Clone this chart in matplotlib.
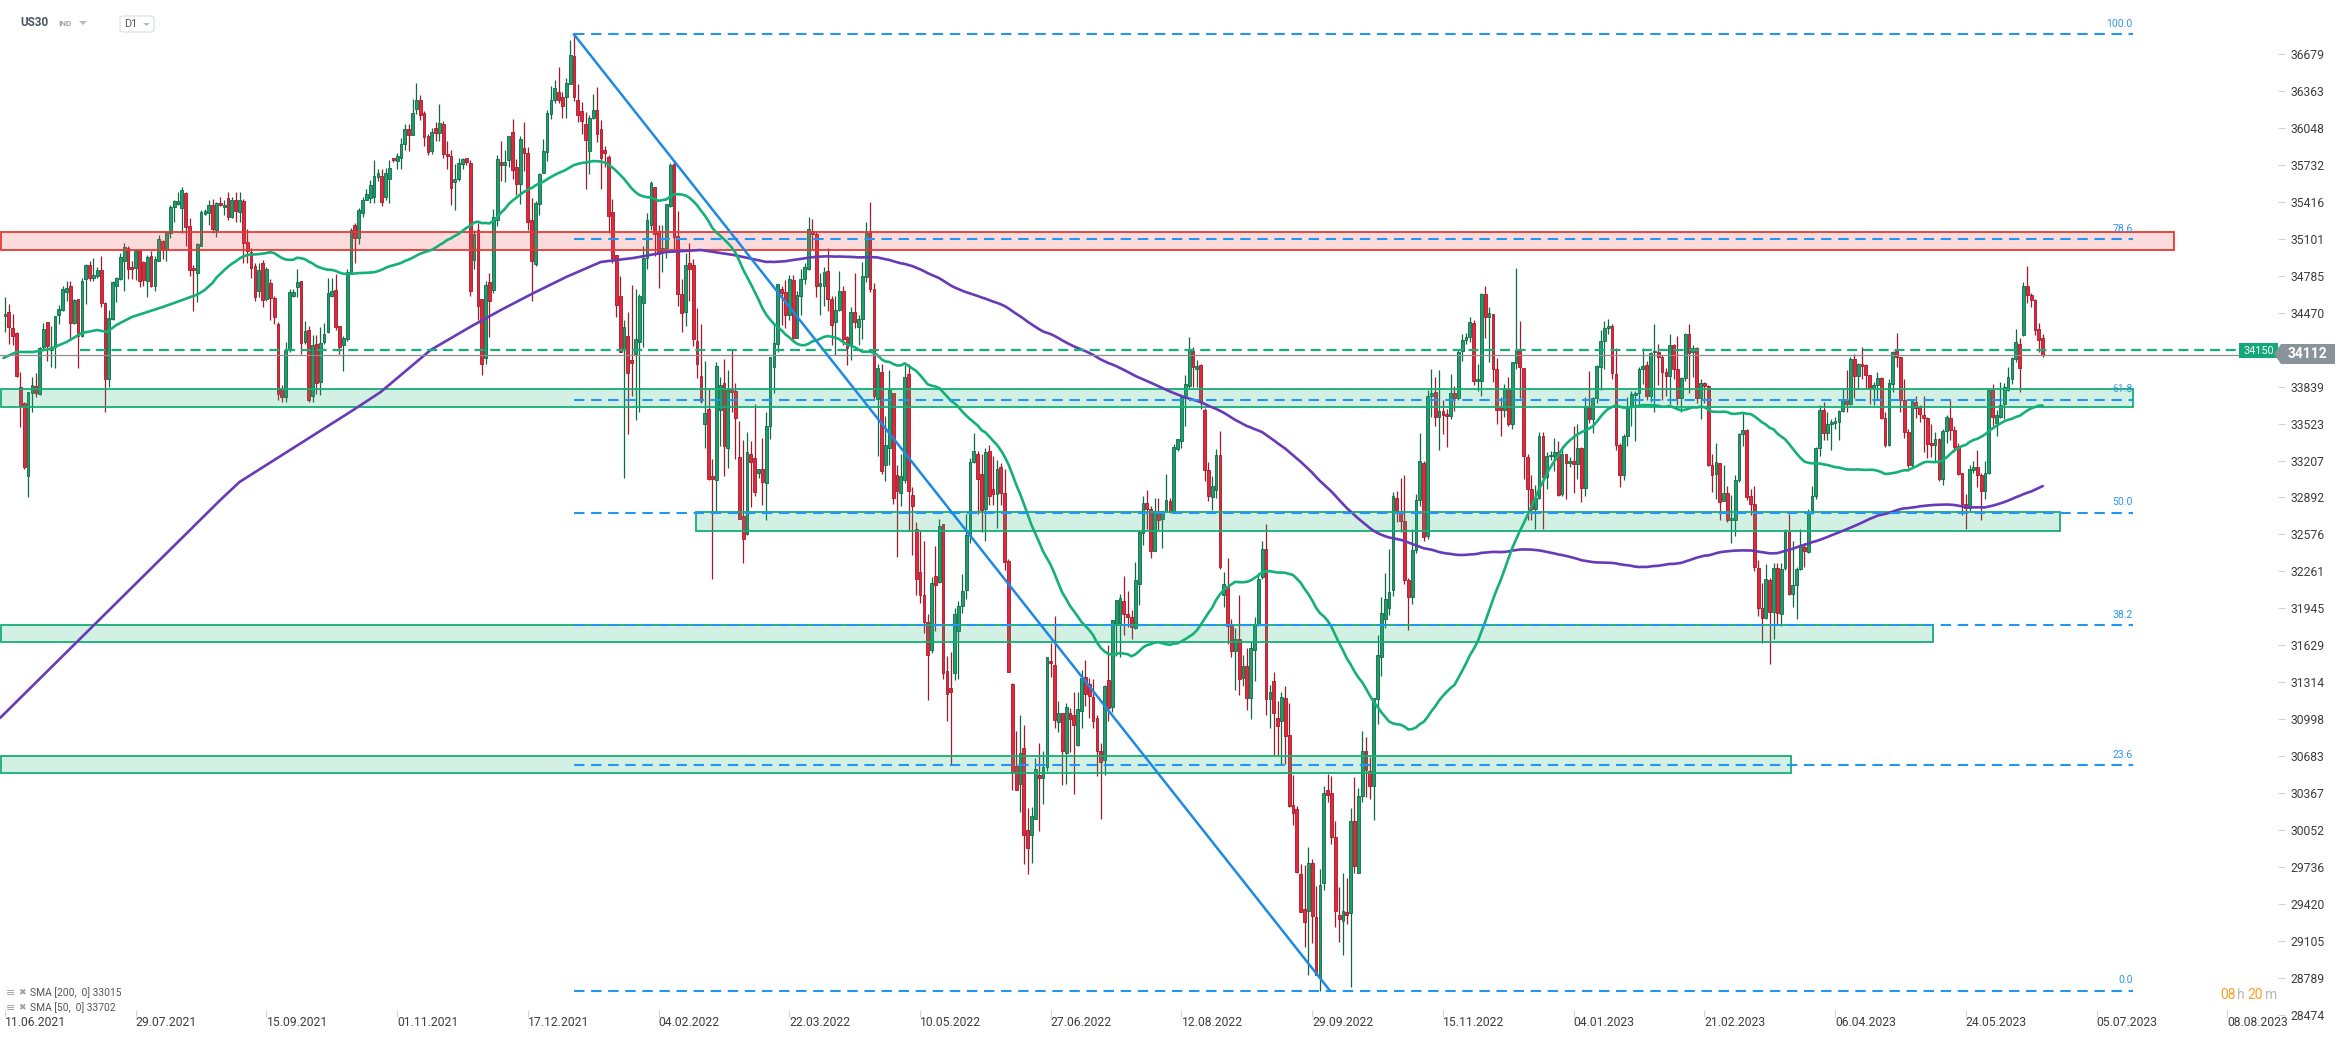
import numpy as np
import matplotlib
matplotlib.use("Agg")
import matplotlib.pyplot as plt
from matplotlib.patches import Rectangle, Polygon, FancyBboxPatch

plt.rcParams['font.family'] = ['Roboto', 'DejaVu Sans']

W, H = 2346, 1039

# daily candles, US30 D1 (bar 0 = 11.06.2021, last bar = 22.06.2023)
opens = [
    34445, 34479, 34341, 34298, 33838, 33699, 33077, 33781, 33846, 33776,
    34177, 34386, 34148, 34177, 34451, 34493, 34649, 34697, 34383, 34587,
    34270, 34756, 34875, 34765, 34782, 34835, 34553, 33903, 34417, 34700,
    34756, 34912, 35018, 34861, 34855, 34993, 34903, 34742, 34957, 34700,
    34912, 35083, 35007, 35148, 35374, 35400, 35360, 35496, 35213, 34850,
    34807, 35043, 35312, 35318, 35386, 35176, 35405, 35369, 35445, 35289,
    35431, 35332, 35422, 35077, 34988, 34869, 34657, 34897, 34586, 34727,
    34594, 34374, 33817, 33752, 34153, 34615, 34685, 34739, 34218, 34323,
    33761, 34199, 33874, 34218, 34303, 34614, 34662, 34354, 34196, 34247,
    34821, 35218, 35105, 35323, 35436, 35453, 35459, 35632, 35640, 35459,
    35609, 35790, 35767, 35793, 35914, 36035, 35990, 36205, 36284, 36171,
    35976, 35852, 36043, 36006, 36077, 35829, 35809, 35589, 35609, 35739,
    35787, 35750, 34921, 35174, 34583, 34081, 34728, 34664, 35264, 35753,
    35734, 35776, 36014, 35717, 35569, 35879, 35831, 35264, 34888, 35400,
    35663, 35842, 36166, 36286, 36354, 36309, 36312, 36425, 36659, 36286,
    36189, 36085, 35847, 36134, 36199, 36037, 35857, 35802, 35326, 34963,
    34609, 34152, 34269, 34064, 34113, 34217, 34550, 34939, 35222, 35546,
    35164, 34997, 35020, 35384, 35737, 35125, 34631, 34476, 34890, 34874,
    34227, 33928, 33515, 33651, 33077, 33045, 33635, 33872, 33311, 33814,
    33798, 33236, 32731, 32576, 33262, 33230, 33100, 33132, 33019, 33505,
    34004, 34202, 34672, 34646, 34451, 34750, 34257, 34614, 34760, 34841,
    35166, 35143, 34701, 34695, 34825, 34588, 34387, 34494, 34656, 34263,
    34192, 34474, 34344, 34419, 34776, 35166, 34669, 33732, 33965, 33165,
    33311, 33781, 33083, 32932, 33041, 33950, 32916, 32624, 32251, 32063,
    31826, 31586, 32222, 32172, 32661, 31411, 31267, 31391, 31753, 31967,
    32105, 32567, 33192, 33266, 33091, 32792, 33286, 32962, 32919, 33148,
    32926, 32349, 31301, 30602, 30442, 30750, 30056, 30006, 30147, 30525,
    30498, 30592, 31492, 31458, 30978, 31050, 30710, 31050, 31033, 30776,
    31066, 31358, 31301, 31184, 31009, 30726, 30649, 31334, 31100, 31803,
    31820, 32004, 31894, 31870, 31780, 32155, 32584, 32842, 32792, 32433,
    32768, 32709, 32777, 32864, 32777, 33304, 33372, 33739, 33845, 34141,
    33993, 34020, 33637, 33122, 32894, 32958, 33258, 32058, 32134, 31794,
    31579, 31681, 31352, 31454, 31178, 31586, 31806, 32210, 32455, 31170,
    31322, 31008, 30981, 31182, 30863, 30265, 30227, 29674, 29375, 29363,
    29768, 29307, 28791, 29602, 30390, 30364, 29992, 29325, 29276, 29352,
    29344, 30125, 29685, 30341, 30730, 30553, 30428, 31170, 31530, 31851,
    31946, 32100, 32890, 32780, 32690, 32190, 32040, 32440, 32870, 33190,
    32560, 33760, 33790, 33580, 33630, 33590, 33590, 33780, 33740, 34140,
    34234, 34260, 34380, 33890, 33890, 34630, 34430, 34460, 33990, 33640,
    33640, 33820, 33520, 34040, 34150, 34000, 33240, 32960, 32790, 32890,
    33420, 33070, 33244, 33250, 33280, 32920, 33260, 33190, 33200, 33180,
    33310, 32970, 33670, 33560, 33740, 34010, 34230, 34340, 34360, 33950,
    33340, 33085, 33420, 33670, 33770, 33780, 33990, 34020, 33760, 34130,
    34130, 34090, 33960, 33930, 34190, 33990, 33740, 33910, 34290, 34130,
    34170, 33740, 33870, 33840, 33170, 33090, 33190, 32860, 32930, 32700,
    32700, 33040, 33430, 33470, 32900, 32840, 32290, 31950, 31860, 32190,
    31910, 32290, 31900, 32290, 32600, 32070, 32140, 32280, 32470, 32430,
    32760, 32900, 33310, 33640, 33440, 33520, 33530, 33540, 33630, 33720,
    33690, 34070, 33930, 34030, 34020, 33940, 33830, 33850, 33910, 33570,
    33340, 33860, 34140, 34090, 33720, 33450, 33170, 33710, 33660, 33600,
    33570, 33350, 33340, 33390, 33050, 33460, 33570, 33470, 33330, 33100,
    32840, 32800, 33130, 33150, 33080, 32950, 33100, 33810, 33530, 33580,
    33690, 33810, 33900, 34070, 34200, 34280, 34700, 34620, 34580, 34330,
    34250,
]
highs = [
    34601, 34544, 34459, 34304, 33959, 33705, 33790, 33917, 33951, 34180,
    34380, 34389, 34352, 34442, 34538, 34700, 34742, 34742, 34590, 34590,
    34770, 34884, 34912, 34940, 34864, 34954, 34558, 34493, 34740, 34776,
    34983, 35063, 35035, 34912, 35015, 35007, 34912, 34960, 34993, 34954,
    35134, 35091, 35168, 35388, 35436, 35502, 35544, 35502, 35275, 34879,
    35063, 35346, 35354, 35431, 35439, 35417, 35459, 35431, 35502, 35459,
    35502, 35502, 35444, 35182, 35020, 34897, 34897, 34921, 34860, 34755,
    34614, 34389, 33851, 34220, 34670, 34670, 34840, 34744, 34398, 34360,
    34280, 34280, 34346, 34380, 34770, 34770, 34800, 34360, 34270, 34840,
    35190, 35233, 35360, 35459, 35530, 35603, 35773, 35693, 35693, 35703,
    35773, 35793, 35833, 35963, 36085, 36085, 36295, 36435, 36325, 36195,
    35993, 36045, 36095, 36255, 36105, 35933, 35863, 35743, 35793, 35793,
    35793, 35773, 35174, 35239, 34583, 34738, 34809, 35352, 35815, 35940,
    35863, 35982, 36128, 35786, 35979, 36102, 35883, 35449, 35423, 35663,
    35950, 36199, 36409, 36458, 36571, 36354, 36474, 36798, 36840, 36419,
    36270, 36183, 36160, 36335, 36393, 36118, 35889, 35818, 35439, 34963,
    34787, 34411, 34479, 34703, 34670, 34631, 35038, 35320, 35595, 35546,
    35222, 35222, 35401, 35750, 35776, 35336, 34761, 34980, 35067, 34925,
    34508, 34372, 34056, 33830, 33220, 34052, 33921, 34075, 33982, 34150,
    33866, 33548, 33382, 33450, 33376, 33694, 33132, 33402, 33625, 34088,
    34377, 34711, 34695, 34750, 34792, 34792, 34656, 34841, 34890, 35289,
    35273, 35166, 34808, 34857, 35023, 34614, 34614, 34825, 34695, 34273,
    34516, 34808, 34452, 34906, 35247, 35419, 34727, 34030, 34030, 33586,
    33981, 33781, 33165, 33262, 34023, 34030, 32981, 32679, 32608, 32517,
    31900, 32215, 32473, 32711, 32668, 31542, 31569, 31947, 32004, 32239,
    32751, 33225, 33443, 33292, 33259, 33316, 33336, 33249, 33215, 33182,
    33131, 32366, 31311, 30894, 31033, 30951, 30240, 30247, 30669, 30793,
    30726, 31529, 31646, 31880, 31157, 31050, 31133, 31090, 31234, 31227,
    31418, 31502, 31351, 31344, 31033, 30793, 31291, 31636, 31847, 32014,
    32064, 32222, 32091, 31927, 32339, 32617, 32902, 32952, 32819, 32885,
    32885, 32777, 33096, 32888, 33349, 33387, 33750, 33939, 34262, 34179,
    34065, 34028, 33652, 33198, 33077, 33304, 33463, 32259, 32372, 31851,
    31776, 32058, 31549, 31605, 31655, 31870, 32247, 32523, 32663, 31291,
    31405, 31151, 31227, 31284, 31140, 30522, 30257, 29761, 29753, 29904,
    29806, 29571, 29723, 30428, 30530, 30511, 30125, 29564, 29685, 29639,
    30238, 30503, 30409, 30900, 30844, 30673, 31178, 31719, 32043, 32247,
    32448, 32940, 32950, 33060, 33080, 32200, 32620, 32920, 33440, 33200,
    33810, 33990, 33920, 33980, 33720, 33650, 33950, 33840, 34160, 34290,
    34300, 34430, 34410, 34030, 34640, 34700, 34520, 34460, 34080, 33750,
    33860, 33920, 34050, 34850, 34400, 34000, 33260, 33080, 33000, 33450,
    33450, 33280, 33290, 33400, 33370, 33330, 33260, 33240, 33500, 33520,
    33320, 33750, 33970, 33750, 34020, 34320, 34400, 34420, 34370, 34170,
    33360, 33430, 33750, 33800, 33800, 34010, 34170, 34060, 34130, 34370,
    34200, 34110, 34000, 34290, 34200, 34270, 33920, 34300, 34370, 34190,
    34180, 33900, 33880, 33850, 33260, 33360, 33190, 33170, 32990, 32910,
    33080, 33440, 33610, 33480, 32960, 32990, 32360, 32160, 32320, 32200,
    32330, 32330, 32330, 32620, 32750, 32520, 32300, 32620, 32500, 32790,
    32990, 33320, 33680, 33710, 33620, 33560, 33580, 33640, 33820, 33980,
    34090, 34120, 34040, 34180, 34030, 33940, 33880, 33960, 33920, 33620,
    33900, 34140, 34300, 34090, 33900, 33480, 33730, 33760, 33680, 33760,
    33580, 33520, 33450, 33400, 33480, 33600, 33720, 33500, 33360, 33100,
    32920, 33170, 33200, 33300, 33100, 33200, 33820, 33860, 33640, 33880,
    33870, 34010, 34090, 34330, 34250, 34730, 34870, 34640, 34590, 34380,
    34290,
]
lows = [
    34304, 34205, 34191, 33917, 33493, 33139, 32894, 33620, 33747, 33765,
    34162, 34058, 34002, 33996, 34374, 34488, 34572, 34233, 34374, 34001,
    34261, 34544, 34742, 34742, 34770, 34516, 33620, 33832, 34410, 34558,
    34748, 34657, 34756, 34756, 34748, 34685, 34700, 34601, 34686, 34657,
    34912, 34926, 34912, 35106, 35247, 35390, 35148, 35035, 34784, 34488,
    34558, 35035, 35304, 35219, 35148, 35114, 35380, 35304, 35261, 35281,
    35247, 35247, 34897, 34897, 34770, 34572, 34600, 34515, 34572, 34405,
    34374, 33725, 33705, 33705, 34130, 34600, 34600, 34120, 34203, 33705,
    33710, 33775, 33765, 34200, 34300, 34600, 34320, 34120, 33975, 34230,
    34810, 34897, 35060, 35290, 35430, 35410, 35410, 35593, 35385, 35430,
    35410, 35753, 35693, 35693, 35863, 35848, 35983, 36165, 36115, 35893,
    35813, 35823, 35933, 35933, 35793, 35693, 35390, 35350, 35593, 35693,
    35733, 34610, 34840, 34405, 33938, 34032, 34259, 34638, 35206, 35598,
    35588, 35711, 35614, 35475, 35400, 35679, 35180, 34567, 34866, 35303,
    35663, 35769, 36128, 36263, 36263, 36134, 36134, 36425, 36280, 36095,
    35996, 35523, 35653, 36128, 35930, 35523, 35718, 35151, 34898, 34431,
    34130, 33054, 33436, 33760, 33549, 33620, 34178, 34840, 35174, 34955,
    34680, 34819, 34939, 35368, 35012, 34528, 34308, 34356, 34567, 34184,
    33912, 33701, 33311, 33041, 32193, 32777, 33333, 33077, 33142, 33619,
    33223, 32705, 32332, 32569, 32812, 32906, 33056, 32829, 32696, 33392,
    33781, 34137, 34364, 34338, 34403, 34241, 34250, 34452, 34711, 34831,
    35013, 34604, 34451, 34526, 34484, 34192, 34111, 34484, 34192, 34023,
    34069, 34338, 34192, 34241, 34734, 34646, 33732, 33246, 33093, 33035,
    33165, 32835, 32381, 32819, 33019, 32608, 32397, 32057, 31992, 31738,
    31164, 31560, 31753, 32165, 31344, 30984, 30616, 31334, 31344, 31904,
    32024, 32507, 33185, 32751, 32594, 32517, 32828, 32828, 32627, 32828,
    32272, 31401, 30391, 30391, 30207, 29760, 29673, 29773, 30147, 30040,
    30274, 30559, 31358, 30927, 30887, 30435, 30448, 30716, 30358, 30770,
    30927, 31110, 31009, 30927, 30509, 30147, 30525, 30983, 31056, 31535,
    31525, 31720, 31786, 31686, 31770, 31971, 32483, 32624, 32373, 32433,
    32617, 32459, 32769, 32758, 32777, 33285, 33311, 33500, 33815, 33833,
    33833, 33644, 33031, 32864, 32788, 32883, 32277, 31956, 31643, 31530,
    31246, 31208, 31284, 31076, 31000, 31322, 31794, 32194, 31038, 30919,
    30693, 30693, 30617, 30617, 30250, 30095, 29684, 29352, 29049, 28810,
    29087, 28810, 28677, 29541, 30295, 29931, 29223, 29098, 28985, 29250,
    28715, 29685, 29685, 30295, 30333, 30314, 30136, 30957, 31367, 31775,
    31889, 32050, 32680, 32600, 32150, 31760, 31980, 32420, 32820, 32520,
    32540, 33580, 33500, 33300, 33430, 33320, 33560, 33630, 33720, 34060,
    34200, 34220, 33850, 33800, 33760, 34250, 34050, 33880, 33520, 33420,
    33580, 33500, 33480, 33990, 33740, 33050, 32700, 32700, 32620, 32880,
    32620, 32960, 33210, 33120, 32900, 32900, 32880, 33150, 32930, 33050,
    32850, 32900, 33530, 33440, 33700, 33810, 33990, 34290, 33900, 33300,
    32980, 33040, 33330, 33500, 33370, 33660, 33860, 33720, 33710, 33620,
    33850, 33720, 33760, 33690, 33900, 33680, 33620, 33890, 33780, 33920,
    33700, 33560, 33700, 33160, 32940, 32880, 32700, 32860, 32680, 32500,
    32560, 33020, 33330, 32870, 32740, 32260, 31880, 31650, 31850, 31470,
    31680, 31800, 31790, 32270, 32060, 31960, 31850, 32270, 32300, 32420,
    32750, 32880, 33250, 33380, 33380, 33300, 33480, 33380, 33620, 33620,
    33680, 33740, 33820, 33900, 33820, 33690, 33680, 33720, 33560, 33320,
    33330, 33790, 34010, 33620, 33400, 33140, 33150, 33570, 33540, 33280,
    33230, 33240, 33200, 33030, 33000, 33360, 33380, 33280, 33080, 32740,
    32620, 32780, 33100, 32980, 32700, 32880, 33090, 33500, 33420, 33570,
    33560, 33800, 33860, 34050, 33796, 34270, 34550, 34520, 34280, 34130,
    34090,
]
closes = [
    34459, 34346, 34270, 33925, 33677, 33153, 33790, 33852, 33781, 34171,
    34332, 34185, 34177, 34442, 34502, 34671, 34683, 34383, 34578, 34270,
    34742, 34878, 34762, 34793, 34835, 34553, 33903, 34425, 34728, 34770,
    34946, 35029, 34841, 34841, 34993, 34742, 34748, 34946, 34700, 34926,
    35097, 35007, 35156, 35374, 35425, 35425, 35516, 35199, 34837, 34831,
    35055, 35326, 35337, 35386, 35182, 35403, 35388, 35388, 35289, 35431,
    35340, 35431, 35063, 35000, 34849, 34600, 34832, 34577, 34841, 34594,
    34431, 33775, 33747, 34153, 34648, 34645, 34736, 34213, 34317, 33727,
    34196, 33868, 34210, 34289, 34637, 34657, 34346, 34176, 34255, 34821,
    35176, 35105, 35346, 35436, 35487, 35558, 35637, 35660, 35411, 35660,
    35702, 35770, 35804, 35906, 36035, 35985, 36171, 36284, 36162, 35971,
    35843, 36010, 36006, 36091, 35821, 35809, 35532, 35609, 35744, 35781,
    35759, 34657, 35141, 34528, 34032, 34706, 34567, 35287, 35786, 35734,
    35753, 35982, 35685, 35569, 35956, 35831, 35248, 34907, 35410, 35653,
    35852, 36176, 36286, 36387, 36286, 36231, 36432, 36668, 36312, 36160,
    36108, 35944, 36134, 36199, 35996, 35792, 35834, 35297, 34940, 34534,
    34136, 34346, 33951, 34042, 34243, 34615, 34933, 35261, 35578, 35141,
    34971, 35026, 35394, 35727, 35119, 34625, 34469, 34874, 34842, 34249,
    34032, 33718, 33609, 33051, 33051, 34013, 33853, 33333, 33807, 33791,
    33570, 32705, 32537, 33278, 33191, 32937, 33132, 33028, 33505, 34088,
    34215, 34711, 34636, 34451, 34760, 34257, 34620, 34760, 34864, 35185,
    35143, 34695, 34727, 34818, 34588, 34361, 34494, 34653, 34241, 34166,
    34474, 34387, 34419, 34782, 35153, 34669, 33754, 33997, 33116, 33343,
    33807, 32884, 32949, 33077, 33918, 32949, 32819, 32193, 32063, 31826,
    31543, 32165, 32148, 32651, 31391, 31217, 31227, 31897, 31967, 32091,
    32567, 33192, 33286, 33048, 32785, 33282, 32902, 32919, 33131, 32929,
    32339, 31401, 30542, 30391, 30710, 30006, 29894, 30174, 30575, 30492,
    30592, 31529, 31475, 30989, 31050, 30726, 31100, 31000, 30949, 31083,
    31351, 31217, 31200, 30983, 30726, 30636, 31284, 31090, 31847, 32014,
    32031, 31897, 31870, 31787, 32189, 32601, 32842, 32795, 32433, 32775,
    32701, 32777, 32871, 32777, 33323, 33387, 33750, 33864, 34160, 34009,
    34016, 33712, 33122, 32902, 32990, 33255, 32296, 32153, 31794, 31579,
    31681, 31341, 31454, 31178, 31605, 31813, 32194, 32448, 31170, 31227,
    31049, 30936, 31189, 30855, 30257, 30201, 29693, 29352, 29269, 29768,
    29314, 28810, 29579, 30371, 30352, 29992, 29363, 29295, 29363, 29322,
    30125, 29742, 30341, 30730, 30560, 30428, 31178, 31549, 31908, 32021,
    32088, 32900, 32773, 32693, 32188, 32041, 32443, 32867, 33200, 32554,
    33756, 33788, 33577, 33633, 33594, 33587, 33786, 33740, 34138, 34234,
    34260, 34387, 33889, 33893, 34630, 34435, 34470, 33987, 33637, 33638,
    33821, 33517, 34045, 34148, 34006, 33243, 32960, 32797, 32890, 33417,
    33067, 33244, 33250, 33281, 32916, 33261, 33187, 33200, 33176, 33310,
    32970, 33671, 33558, 33745, 34014, 34230, 34343, 34360, 33951, 33337,
    33085, 33416, 33670, 33774, 33784, 33990, 34018, 33758, 34126, 34133,
    34094, 33966, 33931, 34196, 33989, 33739, 33909, 34286, 34129, 34168,
    33737, 33867, 33840, 33170, 33085, 33194, 32857, 32929, 32697, 32702,
    33044, 33431, 33472, 32896, 32839, 32294, 31950, 31860, 32195, 31915,
    32287, 31902, 32285, 32600, 32070, 32145, 32278, 32473, 32435, 32758,
    32900, 33314, 33641, 33443, 33523, 33526, 33540, 33627, 33725, 33687,
    34070, 33927, 34028, 34017, 33937, 33827, 33849, 33916, 33571, 33342,
    33866, 34138, 34091, 33724, 33454, 33168, 33715, 33659, 33602, 33571,
    33349, 33341, 33389, 33052, 33461, 33576, 33467, 33326, 33096, 32840,
    32805, 33133, 33150, 33083, 32948, 33102, 33810, 33579, 33600, 33682,
    33836, 33921, 34083, 34223, 33998, 34700, 34620, 34580, 34322, 34237,
    34112,
]

# start of the moving averages, before enough bars are on screen (bar, value)
sma50_x = [-0.4, 3, 7.3, 11.7, 16, 20, 24, 26.5, 29, 33, 37.8, 41, 44.7]
sma50_y = [34083, 34134, 34134, 34160, 34219, 34296, 34322, 34305, 34365, 34433,
           34484, 34518, 34561]
sma200_x = [-1.3, 56, 61, 90.6, 97.7, 110.7, 121, 129, 137.5, 146, 155, 163.5, 172,
            181, 189.6, 198]
sma200_y = [31008, 32870, 33024, 33639, 33792, 34151, 34348, 34493, 34638, 34775,
            34903, 34937, 34988, 35005, 34962, 34903]

date_labels = ['11.06.2021', '29.07.2021', '15.09.2021', '01.11.2021', '17.12.2021',
               '04.02.2022', '22.03.2022', '10.05.2022', '27.06.2022', '12.08.2022',
               '29.09.2022', '15.11.2022', '04.01.2023', '21.02.2023', '06.04.2023',
               '24.05.2023', '05.07.2023', '08.08.2023']
price_ticks = [36679, 36363, 36048, 35732, 35416, 35101, 34785, 34470, 34154, 33839,
               33523, 33207, 32892, 32576, 32261, 31945, 31629, 31314, 30998, 30683,
               30367, 30052, 29736, 29420, 29105, 28789, 28474]

fib_hi, fib_lo = 36846, 28680
fib_ratio = [1.0, 0.786, 0.618, 0.5, 0.382, 0.236, 0.0]
fib_text = ['100.0', '78.6', '61.8', '50.0', '38.2', '23.6', '0.0']

zone_lo = [35005, 33660, 32605, 31660, 30535]
zone_hi = [35160, 33815, 32765, 31803, 30685]
zone_x0 = [-1.0, -1.0, 179.7, -1.0, -1.0]
zone_x1 = [564.1, 553.5, 534.5, 501.4, 464.5]
zone_red = [True, False, False, False, False]

level_price = 34150
last_price = 34112


def fx(px):
    return px / W


def fy(py):
    return 1 - py / H


fig = plt.figure(figsize=(W / 100, H / 100), dpi=100)
fig.patch.set_facecolor('white')
ax = fig.add_axes([0, 0, 2278 / W, 1])
ax.set_xlim(-1.3, 591.2)
ax.set_ylim(28267, 37140)
for s in ax.spines.values():
    s.set_visible(False)
ax.set_xticks([])
ax.yaxis.tick_right()
ax.set_yticks(price_ticks)
ax.set_yticklabels([str(t) for t in price_ticks])
ax.tick_params(axis='y', length=5, width=0.8, color='#d0d4d8', labelsize=8.7,
               labelcolor='#3d3d3d', pad=4)

# candles
o = np.array(opens)
c = np.array(closes)
hi = np.array(highs)
lo = np.array(lows)
idx = np.arange(len(c))
up = c >= o
body_lo = np.minimum(o, c)
body_h = np.maximum(np.abs(c - o), 14)
up_fill, up_edge = '#1f9e6c', '#0e6a45'
dn_fill, dn_edge = '#e4283c', '#a5192a'
ax.vlines(idx[up], lo[up], hi[up], color=up_edge, lw=0.9, zorder=2)
ax.vlines(idx[~up], lo[~up], hi[~up], color=dn_edge, lw=0.9, zorder=2)
ax.bar(idx[up], body_h[up], bottom=body_lo[up], width=0.72, color=up_fill,
       edgecolor=up_edge, linewidth=0.6, zorder=2.5)
ax.bar(idx[~up], body_h[~up], bottom=body_lo[~up], width=0.72, color=dn_fill,
       edgecolor=dn_edge, linewidth=0.6, zorder=2.5)

# zones
for z0, z1, zl, zh, red in zip(zone_x0, zone_x1, zone_lo, zone_hi, zone_red):
    if red:
        fc, ec = (0.93, 0.30, 0.30, 0.2), '#e53935'
    else:
        fc, ec = (0.13, 0.72, 0.48, 0.2), '#17ad76'
    ax.add_patch(Rectangle((z0, zl), z1 - z0, zh - zl, facecolor=fc, edgecolor=ec,
                           lw=1.3, zorder=3))

# moving averages: on-screen part from the closes
cl = np.array(closes, dtype=float)
s50 = np.convolve(cl, np.ones(50) / 50, mode='valid')
s200 = np.convolve(cl, np.ones(200) / 200, mode='valid')
m50_x = np.concatenate([sma50_x, np.arange(49, len(cl))])
m50_y = np.concatenate([sma50_y, s50])
m200_x = np.concatenate([sma200_x, np.arange(199, len(cl))])
m200_y = np.concatenate([sma200_y, s200])
ax.plot(m200_x, m200_y, color='#673ab7', lw=1.9, zorder=4, solid_capstyle='round')
ax.plot(m50_x, m50_y, color='#14b07a', lw=1.9, zorder=4, solid_capstyle='round')

# fibonacci retracement
fib_x0, fib_x1 = 148, 553.4
for r, t in zip(fib_ratio, fib_text):
    lvl = fib_lo + r * (fib_hi - fib_lo)
    ax.plot([fib_x0, fib_x1], [lvl, lvl], color='#2196f3', lw=1.5,
            linestyle=(0, (5, 3.2)), zorder=5)
    ax.text(fib_x1, lvl + 45, t, color='#2f96ee', fontsize=7.5, ha='right',
            va='bottom', zorder=5)
ax.plot([148, 344.6], [fib_hi, fib_lo], color='#1e88e5', lw=1.8, zorder=5)

# key level and last price line
ax.axhline(last_price, color='#8e8e8e', lw=0.9, zorder=4)
ax.plot([19.5, 581], [level_price, level_price], color='#16b07c', lw=1.6,
        linestyle=(0, (4.5, 2.6)), zorder=5)

# date axis labels
date_bars = np.arange(len(date_labels)) * 34
xt = ax.get_xaxis_transform()
for b, lab in zip(date_bars, date_labels):
    ax.text(b, 1 - 1022 / H, lab, transform=xt, ha='left', va='center',
            fontsize=8.7, color='#3d3d3d', clip_on=False)
ax.vlines(date_bars, 1 - 1017 / H, 1 - 1010 / H, transform=xt, color='#d6d6d6', lw=0.8)

# price tags
fig.patches.append(Rectangle((fx(2239), fy(358)), fx(39), 15 / H, transform=fig.transFigure,
                             facecolor='#12a877', edgecolor='none', zorder=10))
fig.text(fx(2258.5), fy(350.5), '34150', color='white', fontsize=7.8, ha='center',
         va='center', zorder=11)
fig.patches.append(Polygon([(fx(2274), fy(354)), (fx(2281), fy(344)), (fx(2335), fy(344)),
                            (fx(2335), fy(364)), (fx(2281), fy(364))],
                           closed=True, transform=fig.transFigure, facecolor='#89939a',
                           edgecolor='none', zorder=10))
fig.text(fx(2308), fy(354), '34112', color='white', fontsize=10, fontweight='bold',
         ha='center', va='center', zorder=11)

# header
fig.text(fx(20), fy(23), 'US30', fontsize=8.5, fontweight='bold', color='#4b5563',
         va='center')
fig.text(fx(58), fy(24), 'IND', fontsize=5.8, fontweight='bold', color='#9aa5b1',
         va='center')
fig.patches.append(Polygon([(fx(79), fy(21)), (fx(87), fy(21)), (fx(83), fy(25))],
                           transform=fig.transFigure, facecolor='#b4bcc4', edgecolor='none'))
fig.patches.append(FancyBboxPatch((fx(120), fy(32)), fx(34), 16 / H,
                                  boxstyle='round,pad=0,rounding_size=0.002',
                                  transform=fig.transFigure, facecolor='white',
                                  edgecolor='#d9dde1', lw=0.8))
fig.text(fx(124), fy(24), 'D1', fontsize=7.8, color='#4b5563', va='center')
fig.patches.append(Polygon([(fx(143), fy(23)), (fx(150), fy(23)), (fx(146.5), fy(26))],
                           transform=fig.transFigure, facecolor='#b4bcc4', edgecolor='none'))

# indicator legend
for yy, txt in [(993, 'SMA [200,  0] 33015'), (1008, 'SMA [50,  0] 33702')]:
    fig.text(fx(6), fy(yy), '\u2261', fontsize=8, color='#a0a0a0', va='center')
    fig.text(fx(18), fy(yy), '\u2716', fontsize=6.5, color='#a0a0a0', va='center')
    fig.text(fx(30), fy(yy), txt, fontsize=7.4, color='#555555', va='center')

# candle countdown
for xx, txt, col in [(2220, '08', '#f7a027'), (2237, 'h', '#b9b9b9'),
                     (2247, '20', '#f7a027'), (2265, 'm', '#b9b9b9')]:
    fig.text(fx(xx), fy(995), txt, fontsize=10, color=col, va='center')

fig.savefig('out.png', dpi=100)
